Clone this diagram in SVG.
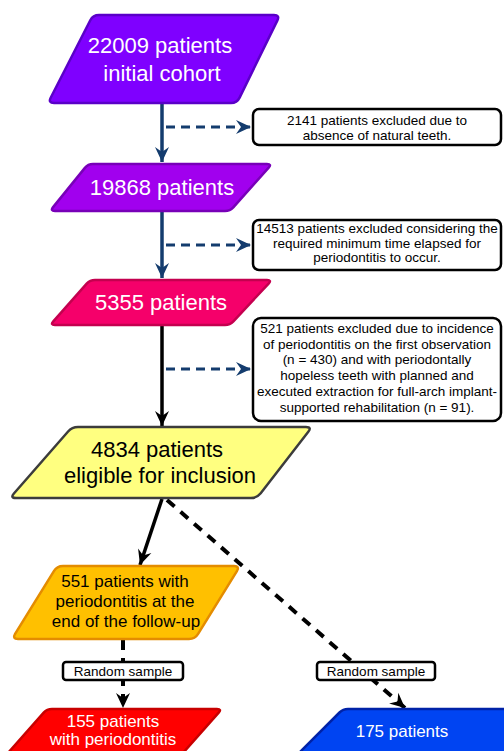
<svg xmlns="http://www.w3.org/2000/svg" width="504" height="751" viewBox="0 0 504 751">
<style>
.node{stroke-width:2.5;stroke-linejoin:round}
.big{font-family:"Liberation Sans",Arial,sans-serif;font-size:22px;text-anchor:middle}
.mid{font-family:"Liberation Sans",Arial,sans-serif;font-size:17px;text-anchor:middle}
.sm{font-family:"Liberation Sans",Arial,sans-serif;font-size:13.5px;text-anchor:middle;fill:#000}
.box{fill:#fff;stroke:#000;stroke-width:2.5}
.navy{stroke:#143C6E;stroke-width:3.5;fill:none}
.navyd{stroke:#143C6E;stroke-width:3;fill:none;stroke-dasharray:9 6}
.blk{stroke:#000;stroke-width:3.5;fill:none}
.blkd{stroke:#000;stroke-width:4;fill:none;stroke-dasharray:10 8}
</style>
<defs>
<marker id="an" markerUnits="userSpaceOnUse" markerWidth="16" markerHeight="16" refX="15" refY="8" orient="auto" overflow="visible">
<path d="M0,1 L15,8 L0,15 L5,8 z" fill="#143C6E"/>
</marker>
<marker id="ab" markerUnits="userSpaceOnUse" markerWidth="16" markerHeight="16" refX="15" refY="8" orient="auto" overflow="visible">
<path d="M0,1 L15,8 L0,15 L5,8 z" fill="#000"/>
</marker>
</defs>
<g id="connectors">
<path class="navy" d="M162,103 V162" marker-end="url(#an)"/>
<path class="navyd" d="M166,127 H251" marker-end="url(#an)"/>
<path class="navy" d="M162,211 V278" marker-end="url(#an)"/>
<path class="navyd" d="M166,245 H251" marker-end="url(#an)"/>
<path class="blk" d="M162,325 V426" marker-end="url(#ab)"/>
<path class="navyd" d="M166,369 H251" marker-end="url(#an)"/>
<path class="blk" d="M162,499 L140,565" marker-end="url(#ab)"/>
<path class="blkd" d="M167,500 L405,708" marker-end="url(#ab)"/>
<path class="blkd" d="M123,640 V708" marker-end="url(#ab)"/>
</g>
<g id="n1">
<path class="node" d="M99,15 L274,15 Q280,15 277.4,20.4 L239.6,97.6 Q237,103 231,103 L54,103 Q48,103 50.7,97.7 L90.3,20.3 Q93,15 99,15 Z" fill="#7F00FF" stroke="#5A00C8"/>
<text class="big" x="160" y="53" fill="#fff">22009 patients</text>
<text class="big" x="162" y="81" fill="#fff">initial cohort</text>
</g>
<g id="n2">
<path class="node" d="M93,164 L267,164 Q272,164 268.7,167.7 L233.3,207.3 Q230,211 225,211 L55,211 Q50,211 53.1,207.1 L84.9,167.9 Q88,164 93,164 Z" fill="#A100EE" stroke="#7800B8"/>
<text class="big" x="162" y="195" fill="#fff">19868 patients</text>
</g>
<g id="n3">
<path class="node" d="M95,280 L267,280 Q272,280 268.6,283.7 L233.4,321.3 Q230,325 225,325 L55,325 Q50,325 53.3,321.3 L86.7,283.7 Q90,280 95,280 Z" fill="#F5006A" stroke="#C4004F"/>
<text class="big" x="161" y="310" fill="#fff">5355 patients</text>
</g>
<g id="n4">
<path class="node" d="M78,427 L306,427 Q312,427 308.3,431.7 L260.7,493.3 Q257,498 251,498 L16,498 Q10,498 13.9,493.5 L68.1,431.5 Q72,427 78,427 Z" fill="#FFFF80" stroke="#3C3C3C"/>
<text class="big" x="157" y="457" fill="#000">4834 patients</text>
<text class="big" x="160" y="483" fill="#000">eligible for inclusion</text>
</g>
<g id="n5">
<path class="node" d="M63,566 L234,566 Q240,566 236.9,571.1 L198.1,633.9 Q195,639 189,639 L18,639 Q12,639 15.1,633.9 L53.9,571.1 Q57,566 63,566 Z" fill="#FFC000" stroke="#E48C00"/>
<text class="mid" x="125" y="587" fill="#000">551 patients with</text>
<text class="mid" x="125" y="607" fill="#000">periodontitis at the</text>
<text class="mid" x="126" y="627" fill="#000">end of the follow-up</text>
</g>
<g id="n6">
<path class="node" d="M52,709 L217,709 Q222,709 218.7,712.7 L175,762 L0,762 L43.7,712.7 Q47,709 52,709 Z" fill="#FF0000" stroke="#C80000"/>
<text class="mid" x="113" y="727" fill="#fff">155 patients</text>
<text class="mid" x="113" y="745" fill="#fff">with periodontitis</text>
</g>
<g id="n7">
<path class="node" d="M348,709 L560,709 L510,762 L290,762 L339.5,712.5 Q343,709 348,709 Z" fill="#0044F2" stroke="#0022A8"/>
<text class="mid" x="402" y="737" fill="#fff">175 patients</text>
</g>
<g id="b1">
<rect class="box" x="253" y="109" width="248" height="36" rx="6"/>
<text class="sm" x="377" y="125">2141 patients excluded due to</text>
<text class="sm" x="377" y="139.5">absence of natural teeth.</text>
</g>
<g id="b2">
<rect class="box" x="253" y="220" width="248" height="50" rx="6"/>
<text class="sm" x="377" y="233">14513 patients excluded considering the</text>
<text class="sm" x="377" y="247.5">required minimum time elapsed for</text>
<text class="sm" x="377" y="262">periodontitis to occur.</text>
</g>
<g id="b3">
<rect class="box" x="253" y="318" width="248" height="103" rx="8"/>
<text class="sm" x="377" y="333">521 patients excluded due to incidence</text>
<text class="sm" x="377" y="348.5">of periodontitis on the first observation</text>
<text class="sm" x="377" y="364">(n = 430) and with periodontally</text>
<text class="sm" x="377" y="380">hopeless teeth with planned and</text>
<text class="sm" x="377" y="396">executed extraction for full-arch implant-</text>
<text class="sm" x="377" y="412">supported rehabilitation (n = 91).</text>
</g>
<g id="r1">
<rect class="box" x="63" y="662" width="120" height="18" rx="3"/>
<text class="sm" x="123" y="675.5">Random sample</text>
</g>
<g id="r2">
<rect class="box" x="317" y="662" width="118" height="18" rx="3"/>
<text class="sm" x="376" y="675.5">Random sample</text>
</g>
</svg>
